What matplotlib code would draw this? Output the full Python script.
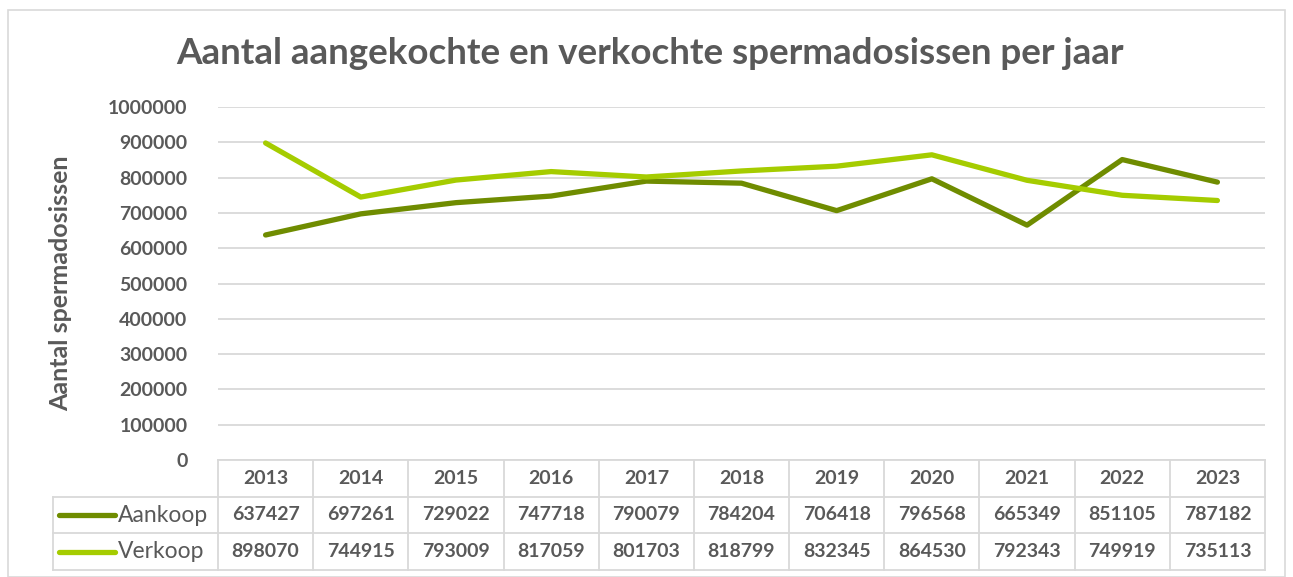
import matplotlib.pyplot as plt
from matplotlib.patches import Rectangle
import matplotlib.transforms as mtransforms

years = ["2013", "2014", "2015", "2016", "2017", "2018", "2019", "2020", "2021", "2022", "2023"]
aankoop = [637427, 697261, 729022, 747718, 790079, 784204, 706418, 796568, 665349, 851105, 787182]
verkoop = [898070, 744915, 793009, 817059, 801703, 818799, 832345, 864530, 792343, 749919, 735113]
series = [("Aankoop", aankoop, "#6f8c00"), ("Verkoop", verkoop, "#a5cc00")]

TXT = "#595959"
GRID = "#d9d9d9"
plt.rcParams["font.family"] = ["Lato", "DejaVu Sans"]

W, H = 1293, 577
fig = plt.figure(figsize=(W / 100, H / 100), dpi=100)
fig.patches.append(Rectangle((8 / W, 0), (1285 - 8) / W, 1 - 10 / H, transform=fig.transFigure,
                             fill=False, edgecolor=GRID, lw=1.2))

ax = fig.add_axes([218 / W, 1 - 460 / H, (1265 - 218) / W, (460 - 107) / H])
x = list(range(len(years)))
for name, vals, col in series:
    ax.plot(x, vals, color=col, lw=3.8, solid_capstyle="round", solid_joinstyle="round", zorder=3)

ax.set_xlim(-0.5, len(years) - 0.5)
ax.set_ylim(0, 1000000)
ax.set_yticks(range(0, 1000001, 100000))
ax.yaxis.set_major_formatter(plt.FuncFormatter(lambda v, p: f"{int(v)}"))
ax.tick_params(axis="y", length=0, pad=22, labelsize=14, labelcolor=TXT)
ax.set_xticks([])
for t in ax.get_yticklabels():
    t.set_fontweight("bold")
ax.grid(axis="y", color=GRID, lw=1.3)
for s in ax.spines.values():
    s.set_visible(False)

fig.text(61 / W, 1 - 283 / H, "Aantal spermadosissen", rotation=90, ha="center", va="center",
         fontsize=18, color=TXT, fontweight="bold")
fig.text(650 / W, 1 - 53 / H, "Aantal aangekochte en verkochte spermadosissen per jaar",
         ha="center", va="center", fontsize=26.5, color=TXT, fontweight="bold")

# data table below the axis
trans = mtransforms.blended_transform_factory(ax.transData, fig.transFigure)
rows = [460, 497, 533, 570]
rows_f = [1 - r / H for r in rows]
col_w = (1265 - 218) / len(years)
left_cell = -0.5 - (218 - 53) / col_w
right = len(years) - 0.5
kw = dict(transform=trans, color=GRID, lw=1.3, clip_on=False)
ax.plot([-0.5, right], [rows_f[0]] * 2, **kw)
for yf in rows_f[1:]:
    ax.plot([left_cell, right], [yf] * 2, **kw)
ax.plot([left_cell, left_cell], [rows_f[1], rows_f[3]], **kw)
for i in range(len(years) + 1):
    ax.plot([i - 0.5, i - 0.5], [rows_f[0], rows_f[3]], **kw)

cell_kw = dict(transform=trans, ha="center", va="center", fontsize=14, color=TXT,
               fontweight="bold", clip_on=False)
for i, yr in enumerate(years):
    ax.text(i, (rows_f[0] + rows_f[1]) / 2, yr, **cell_kw)
for r, (name, vals, col) in enumerate(series):
    yc = (rows_f[r + 1] + rows_f[r + 2]) / 2
    for i, v in enumerate(vals):
        ax.text(i, yc, str(v), **cell_kw)
    lx0 = left_cell + 6 / col_w
    lx1 = left_cell + 62 / col_w
    ax.plot([lx0, lx1], [yc, yc], transform=trans, color=col, lw=3.8,
            solid_capstyle="round", clip_on=False)
    ax.text(lx1 + 3 / col_w, yc, name, transform=trans, ha="left", va="center",
            fontsize=16.5, color=TXT, clip_on=False)

fig.savefig("out.png", dpi=100)
